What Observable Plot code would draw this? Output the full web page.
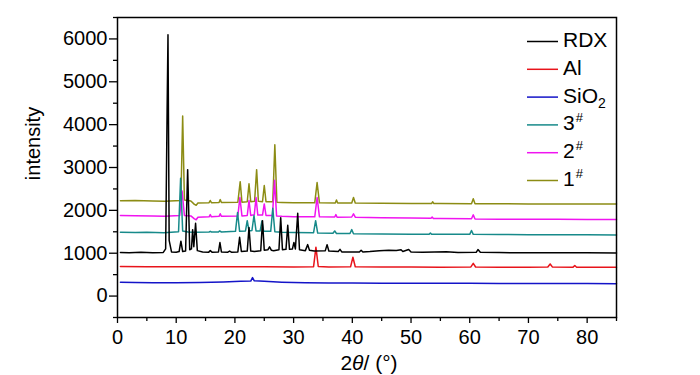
<!DOCTYPE html>
<html><head><meta charset="utf-8">
<script src="https://cdn.jsdelivr.net/npm/d3@7"></script>
<script src="https://cdn.jsdelivr.net/npm/@observablehq/plot@0.6"></script>
<style>
body{margin:0;background:#fff;}
svg{font-family:"Liberation Sans",Arial,sans-serif;}
</style>
</head><body><div id="chart"></div>
<script>
// Series names (legend order) and colours
const seriesNames = ["RDX","Al","SiO2","3#","2#","1#"];
const seriesColors = ["#000000","#e8141b","#1414c8","#178a8a","#f014f0","#8c8c14"];

// [2θ (°), intensity]
const rdx = [[0.5,1015],[2,1010],[4,1020],[6,1012],[7.8,1018],[8.2,1100],[8.45,4300],[8.6,6100],[8.8,1300],[9.2,1030],[10,1025],[10.5,1040],[10.8,1280],[11.1,1040],[11.6,1050],[11.95,2950],[12.3,1080],[12.6,1100],[12.8,1550],[13.0,1150],[13.3,1700],[13.6,1060],[14.5,1030],[15.5,1020],[15.8,1060],[16.1,1025],[17.2,1030],[17.45,1250],[17.7,1030],[18.8,1025],[19.1,1050],[19.4,1025],[20.5,1030],[20.8,1370],[21.1,1040],[22.1,1050],[22.4,1600],[22.7,1050],[23.3,1040],[24.4,1060],[24.7,1760],[25.0,1070],[25.6,1080],[25.9,1150],[26.2,1070],[26.6,1060],[27.5,1080],[27.8,1830],[28.1,1080],[28.7,1090],[29.0,1650],[29.3,1090],[29.8,1100],[30.05,1250],[30.3,1100],[30.7,1930],[31.0,1080],[32.0,1060],[32.4,1200],[32.7,1070],[33.5,1050],[35.4,1060],[35.7,1200],[36.0,1050],[37.6,1040],[37.9,1090],[38.2,1030],[41.2,1030],[41.5,1070],[41.8,1030],[43,1040],[44.6,1060],[46.2,1070],[47.5,1065],[48.3,1080],[48.6,1040],[49.6,1085],[50,1030],[52,1020],[56,1035],[58,1015],[61.1,1020],[61.4,1085],[61.8,1020],[65,1015],[70,1010],[75,1012],[80,1008],[85,1005]];
const al = [[0.5,690],[5,685],[10,683],[15,682],[20,683],[25,682],[30,680],[33.4,685],[33.8,1140],[34.2,690],[36,680],[39.7,682],[40.1,905],[40.5,685],[45,678],[50,676],[55,675],[60.2,680],[60.6,765],[61.0,678],[65,674],[70,673],[73.3,678],[73.7,750],[74.1,676],[77.6,675],[77.9,712],[78.2,674],[85,670]];
const sio2 = [[0.5,320],[3,315],[6,312],[10,310],[14,315],[18,330],[21,345],[22.7,350],[23.0,430],[23.3,355],[25,345],[28,325],[32,310],[36,305],[40,303],[45,300],[50,300],[55,298],[60,298],[65,296],[70,295],[75,293],[80,292],[85,290]];
const s3 = [[0.5,1490],[3,1485],[5,1488],[7.9,1480],[10.4,1500],[10.75,2750],[11.1,1520],[12,1495],[13,1490],[15.6,1495],[15.8,1510],[16.0,1495],[17.2,1495],[17.4,1520],[17.7,1495],[20.1,1510],[20.45,1950],[20.8,1510],[21.8,1520],[22.1,1760],[22.4,1520],[22.9,1530],[23.25,1880],[23.6,1520],[24.3,1520],[24.6,1750],[24.9,1510],[26.1,1510],[26.45,2050],[26.8,1500],[28,1490],[30,1485],[33.4,1480],[33.75,1760],[34.1,1470],[36.7,1465],[37,1520],[37.3,1460],[39.6,1460],[39.9,1550],[40.2,1455],[45,1450],[50,1445],[53.1,1445],[53.3,1470],[53.5,1442],[55,1440],[60,1440],[60.3,1530],[60.6,1440],[65,1435],[70,1432],[75,1430],[80,1428],[85,1425]];
const s2 = [[0.5,1880],[3,1875],[6,1870],[8,1865],[10.6,1880],[11.0,2450],[11.4,1880],[12.5,1870],[13.1,1800],[13.4,1780],[13.7,1840],[15.6,1850],[15.8,1900],[16.0,1850],[17.3,1860],[17.5,1920],[17.7,1860],[20.5,1870],[20.85,2300],[21.2,1870],[22.1,1880],[22.4,2230],[22.7,1880],[23.3,1900],[23.6,2300],[23.9,1890],[24.7,1890],[25.0,2150],[25.3,1880],[26.4,1880],[26.75,2700],[27.1,1870],[28,1860],[30,1850],[33.6,1850],[34.0,2300],[34.4,1850],[37,1845],[37.2,1900],[37.4,1840],[39.9,1845],[40.2,1920],[40.5,1840],[45,1830],[50,1820],[53.4,1815],[53.6,1845],[53.8,1812],[55,1810],[60.3,1805],[60.6,1895],[60.9,1800],[65,1795],[70,1792],[75,1790],[80,1788],[85,1785]];
const s1 = [[0.5,2225],[3,2230],[6,2220],[8,2215],[10.8,2230],[11.1,4200],[11.4,2240],[12.5,2220],[13.1,2140],[13.4,2120],[13.7,2170],[15.6,2180],[15.8,2230],[16.0,2180],[17.3,2185],[17.5,2250],[17.7,2185],[20.5,2190],[20.9,2670],[21.2,2190],[22.1,2200],[22.4,2620],[22.7,2200],[23.35,2210],[23.7,2950],[24.0,2210],[24.7,2200],[25.0,2580],[25.3,2200],[26.45,2200],[26.8,3530],[27.15,2190],[28,2185],[30,2175],[33.6,2175],[34.0,2650],[34.4,2175],[37.1,2170],[37.3,2240],[37.5,2170],[39.9,2170],[40.2,2300],[40.5,2170],[45,2165],[50,2160],[53.5,2160],[53.7,2200],[53.9,2158],[55,2158],[60.3,2155],[60.6,2270],[60.9,2155],[65,2152],[70,2150],[75,2150],[80,2148],[85,2147]];

// Tick values
const xTicks = [0,10,20,30,40,50,60,70,80];
const xMinor = [5,15,25,35,45,55,65,75,85];
const yTicks = [0,1000,2000,3000,4000,5000,6000];
const yMinor = [-500,500,1500,2500,3500,4500,5500,6500];

const seriesData = [rdx, al, sio2, s3, s2, s1];
// draw order: samples first, then references on top
const drawOrder = [5,4,3,2,1,0];
const rows = drawOrder.flatMap(i => seriesData[i].map(([x,y]) => ({series: seriesNames[i], x, y})));

const chart = Plot.plot({
  width: 700, height: 375,
  marginLeft: 117, marginRight: 84, marginTop: 17, marginBottom: 58,
  style: {fontFamily: "'Liberation Sans', Arial, sans-serif", fontSize: "20px", background: "white", color: "black", overflow: "visible"},
  x: {domain: [0, 85]},
  y: {domain: [-500, 6500]},
  color: {domain: seriesNames, range: seriesColors},
  marks: [
    Plot.line(rows, {x: "x", y: "y", z: "series", stroke: "series", strokeWidth: 1.5}),
    Plot.axisX(xTicks, {tickSize: 6, tickPadding: 6, label: null, strokeWidth: 1.3, tickFormat: d => String(d)}),
    Plot.axisX(xMinor, {tickSize: 4, text: null, label: null, strokeWidth: 1.3}),
    Plot.axisY(yTicks, {tickSize: 8, tickPadding: 2, label: null, strokeWidth: 1.3, tickFormat: d => String(d)}),
    Plot.axisY(yMinor, {tickSize: 4, text: null, label: null, strokeWidth: 1.3}),
    Plot.frame({stroke: "black", strokeWidth: 1.5})
  ]
});
document.getElementById("chart").appendChild(chart);

const svg = d3.select(chart);
const font = "'Liberation Sans', Arial, sans-serif";

// Axis titles
svg.append("text")
  .attr("transform", "translate(40,143.5) rotate(-90)")
  .attr("text-anchor", "middle")
  .attr("font-family", font).attr("font-size", 20).attr("fill", "black")
  .text("intensity");

const xt = svg.append("text")
  .attr("x", 369).attr("y", 370)
  .attr("text-anchor", "middle")
  .attr("font-family", font).attr("font-size", 21).attr("fill", "black");
xt.append("tspan").text("2");
xt.append("tspan").attr("font-style", "italic").text("θ");
xt.append("tspan").text("/ (°)");

// Legend
const legendMain = ["RDX","Al","SiO","3","2","1"];
const legendSub = ["","","2","","",""];
const legendSup = ["","","","#","#","#"];
const lg = svg.append("g").attr("text-anchor", "start");
seriesNames.forEach((name, i) => {
  const y = 41.5 + i * 27.8;
  lg.append("line").attr("x1", 527).attr("x2", 558).attr("y1", y).attr("y2", y)
    .attr("stroke", seriesColors[i]).attr("stroke-width", 1.5);
  const t = lg.append("text").attr("x", 563).attr("y", y + 5.5)
    .attr("text-anchor", "start")
    .attr("font-family", font).attr("font-size", 21).attr("fill", "black");
  t.append("tspan").text(legendMain[i]);
  if (legendSub[i]) t.append("tspan").attr("font-size", 14).attr("dy", 5).text(legendSub[i]);
  if (legendSup[i]) t.append("tspan").attr("font-size", 13).attr("dx", 1).attr("dy", -8).text(legendSup[i]);
});
</script>
</body></html>
